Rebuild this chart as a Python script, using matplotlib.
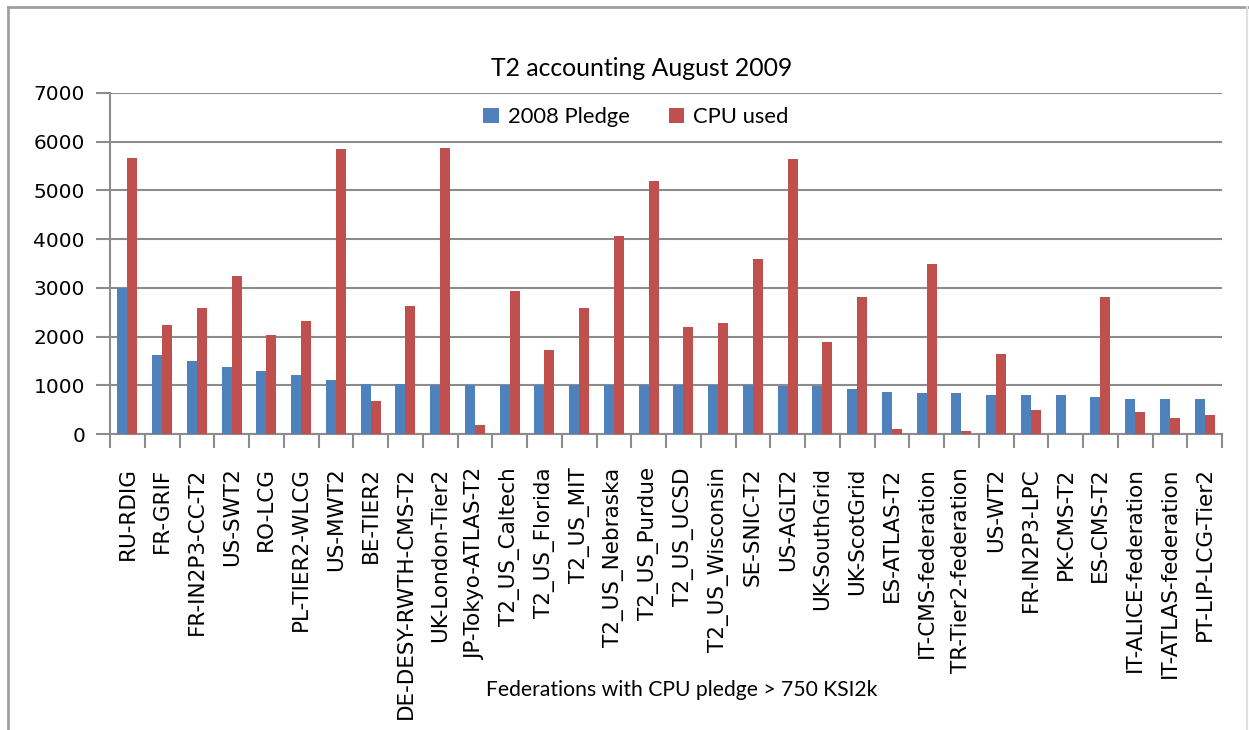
import numpy as np
import matplotlib
matplotlib.use("Agg")
import matplotlib.pyplot as plt
from matplotlib.lines import Line2D

# federations, ordered by 2008 pledge
federations = [
    "RU-RDIG", "FR-GRIF", "FR-IN2P3-CC-T2", "US-SWT2", "RO-LCG",
    "PL-TIER2-WLCG", "US-MWT2", "BE-TIER2", "DE-DESY-RWTH-CMS-T2",
    "UK-London-Tier2", "JP-Tokyo-ATLAS-T2", "T2_US_Caltech", "T2_US_Florida",
    "T2_US_MIT", "T2_US_Nebraska", "T2_US_Purdue", "T2_US_UCSD",
    "T2_US_Wisconsin", "SE-SNIC-T2", "US-AGLT2", "UK-SouthGrid",
    "UK-ScotGrid", "ES-ATLAS-T2", "IT-CMS-federation", "TR-Tier2-federation",
    "US-WT2", "FR-IN2P3-LPC", "PK-CMS-T2", "ES-CMS-T2",
    "IT-ALICE-federation", "IT-ATLAS-federation", "PT-LIP-LCG-Tier2",
]
pledge_2008 = [
    3000, 1620, 1500, 1380, 1290,
    1220, 1100, 1030, 1030,
    1000, 1000, 1000, 1000,
    1000, 1000, 1000, 1000,
    1000, 1000, 990, 980,
    920, 870, 840, 840,
    800, 800, 800, 760,
    720, 720, 720,
]
cpu_used = [
    5660, 2230, 2580, 3240, 2030,
    2310, 5850, 680, 2620,
    5880, 180, 2940, 1730,
    2580, 4060, 5190, 2190,
    2270, 3590, 5650, 1890,
    2810, 100, 3480, 60,
    1650, 490, 0, 2810,
    450, 330, 400,
]

W, H = 1249, 730
fig = plt.figure(figsize=(W / 100, H / 100), dpi=100)
fig.patch.set_facecolor("white")

# chart area frame
fig.add_artist(Line2D([8 / W, 8 / W], [0, 1 - 7 / H], color="#a0a0a0", lw=2.0, transform=fig.transFigure))
fig.add_artist(Line2D([8 / W, 1], [1 - 7 / H, 1 - 7 / H], color="#a0a0a0", lw=2.0, transform=fig.transFigure))
fig.add_artist(Line2D([1247 / W, 1247 / W], [0, 1 - 7 / H], color="#e0e0e0", lw=1.5, transform=fig.transFigure))

left, right, top, bottom = 110, 1222, 93, 434
ax = fig.add_axes([left / W, 1 - bottom / H, (right - left) / W, (bottom - top) / H])

x = np.arange(len(federations))
bw = 0.285
ax.bar(x - bw / 2, pledge_2008, bw, color="#4F81BD", label="2008 Pledge", zorder=3)
ax.bar(x + bw / 2, cpu_used, bw, color="#C0504D", label="CPU used", zorder=3)

ax.set_xlim(-0.5, len(federations) - 0.5)
ax.set_ylim(0, 7000)
ax.set_yticks(np.arange(0, 7001, 1000))
ax.grid(axis="y", color="#8c8c8c", lw=1.5, zorder=0)

ax.set_xticks(x)
ax.set_xticklabels(federations, rotation=90, fontsize=15.5, family="DejaVu Sans")
ax.set_xticks(np.arange(-0.5, len(federations)), minor=True)
ax.tick_params(axis="x", which="major", length=0, pad=24)
ax.tick_params(axis="x", which="minor", length=10, width=1.5, color="#8c8c8c", direction="out")
ax.tick_params(axis="y", length=10, width=1.5, color="#8c8c8c", labelsize=14.5, pad=8)

for side in ["top", "right"]:
    ax.spines[side].set_visible(False)
for side in ["left", "bottom"]:
    ax.spines[side].set_color("#8c8c8c")
    ax.spines[side].set_linewidth(1.5)

fig.text(642 / W, 1 - 68 / H, "T2 accounting August 2009",
         ha="center", va="center", fontsize=17.8, family="Lato")
fig.text(682 / W, 1 - 690 / H, "Federations with CPU pledge > 750 KSI2k",
         ha="center", va="center", fontsize=15.2, family="Lato")

leg = ax.legend(loc="center", bbox_to_anchor=((636 - left) / (right - left), (bottom - 117) / (bottom - top)),
                ncol=2, frameon=False,
                prop={"family": "Lato", "size": 15.8}, handlelength=0.7, handleheight=0.7,
                handletextpad=0.4, columnspacing=1.8)

fig.savefig("out.png", dpi=100, facecolor="white")
